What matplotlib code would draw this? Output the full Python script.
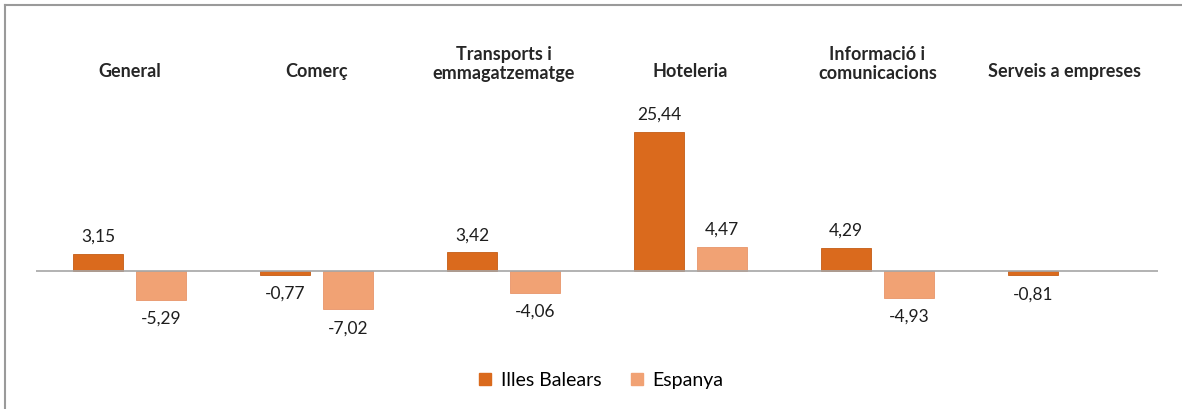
import matplotlib.pyplot as plt
import numpy as np
from matplotlib.lines import Line2D

# data
categories = ['General', 'Comerç', 'Transports i\nemmagatzematge', 'Hoteleria',
              'Informació i\ncomunicacions', 'Serveis a empreses']
illes_balears = [3.15, -0.77, 3.42, 25.44, 4.29, -0.81]
espanya = [-5.29, -7.02, -4.06, 4.47, -4.93, np.nan]
series_names = ['Illes Balears', 'Espanya']

c_ib = '#DA6A1D'
c_es = '#F1A274'

plt.rcParams['font.family'] = ['Lato', 'DejaVu Sans']

fig = plt.figure(figsize=(11.82, 4.10), dpi=100)
ax = fig.add_axes([36 / 1182, 1 - 335 / 410, (1158 - 36) / 1182, 235 / 410])

x = np.arange(len(categories))
w = 0.27
off = 0.168
ax.bar(x - off, illes_balears, w, color=c_ib, edgecolor='#C45C15', linewidth=0.6)
ax.bar(x + off, espanya, w, color=c_es, edgecolor='#E8956A', linewidth=0.6)

ax.set_xlim(-0.5, len(categories) - 0.5)
ax.set_ylim(-11.5, 31.4)
ax.axhline(0, color='#A6A6A6', linewidth=1.2)
ax.axis('off')

# value labels
for xs, vals in [(x - off, illes_balears), (x + off, espanya)]:
    for xi, v in zip(xs, vals):
        if np.isnan(v):
            continue
        lbl = f'{v:.2f}'.replace('.', ',')
        dy = 7 if v >= 0 else -7
        ax.annotate(lbl, (xi, v), xytext=(0, dy), textcoords='offset points',
                    ha='center', va='bottom' if v >= 0 else 'top',
                    fontsize=12.5, color='#1E1E1E')

# category labels on top
for xi, cat in zip(x, categories):
    fig_y = 1 - 64 / 410 if '\n' in cat else 1 - 72 / 410
    fig.text(ax.transData.transform((xi, 0))[0] / fig.bbox.width, fig_y, cat,
             ha='center', va='center', fontsize=13, fontweight='bold',
             color='#262626', linespacing=1.15)

# legend
handles = [Line2D([], [], marker='s', linestyle='none', markersize=8, color=c_ib),
           Line2D([], [], marker='s', linestyle='none', markersize=8, color=c_es)]
fig.legend(handles, series_names, loc='center', bbox_to_anchor=(0.508, 1 - 381 / 410),
           ncol=2, frameon=False, handlelength=0.8, handletextpad=0.4,
           columnspacing=1.45, prop={'size': 14})

# outer frame (left and top visible)
fig.add_artist(Line2D([5 / 1182, 5 / 1182], [0, 1 - 6 / 410], color='#9A9A9A', linewidth=1.5))
fig.add_artist(Line2D([5 / 1182, 1], [1 - 6 / 410, 1 - 6 / 410], color='#9A9A9A', linewidth=1.5))

fig.savefig('out.png', dpi=100)
